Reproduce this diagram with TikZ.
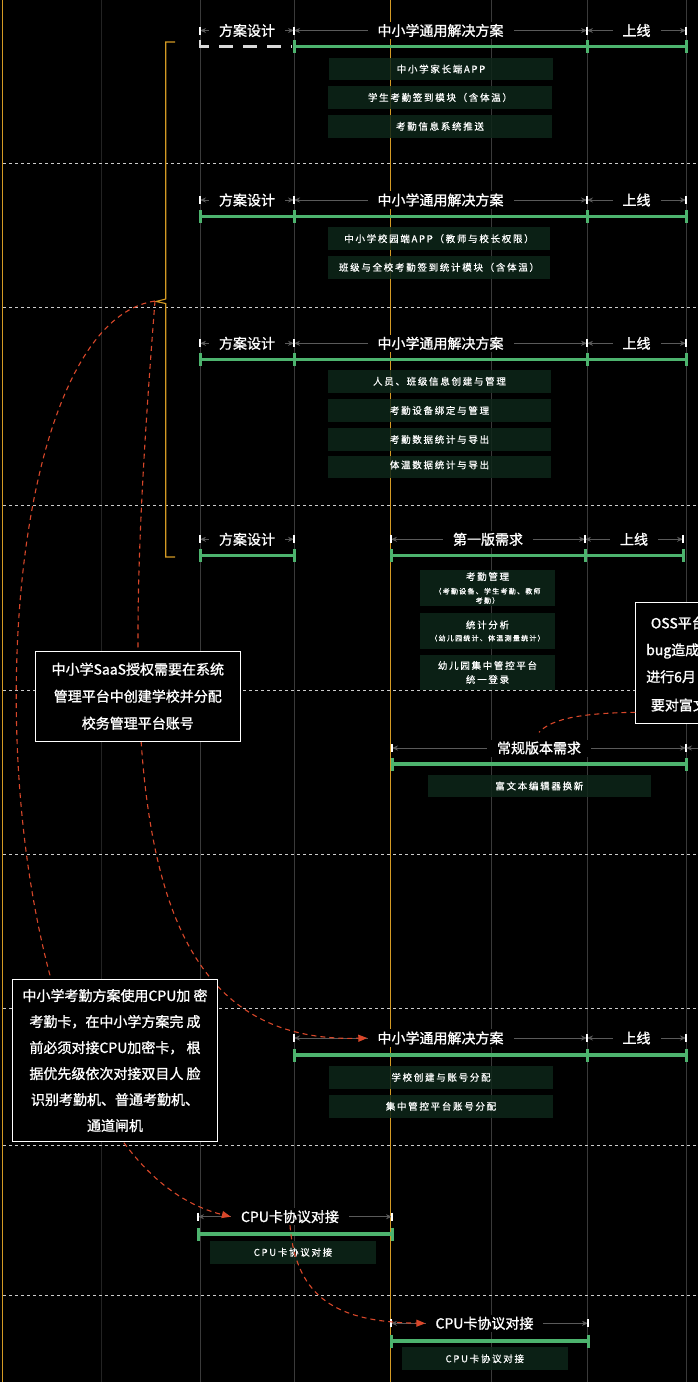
\documentclass[tikz,border=0pt]{standalone}
\usepackage{fontspec}
\setmainfont{Noto Sans CJK SC}
\newfontfamily\labelfont{Noto Sans CJK SC}[FakeBold=1.2]
\newfontfamily\taskfont{Noto Sans CJK SC}[LetterSpace=18, FakeBold=0.6]
\usetikzlibrary{arrows.meta}

\definecolor{gold}{HTML}{D49A24}
\definecolor{barGreen}{HTML}{4DB36E}
\definecolor{boxGreen}{HTML}{0E2619}
\definecolor{gridGray}{HTML}{3A3A3A}
\definecolor{dimGray}{HTML}{5A5A5A}
\definecolor{noteRed}{HTML}{D8472A}

\tikzset{
  gridline/.style={gridGray, line width=1pt},
  goldline/.style={gold, line width=1.3pt},
  sepline/.style={white!80!black, line width=0.7pt, dash pattern=on 3pt off 3pt},
  dimline/.style={dimGray, line width=0.8pt, {Stealth[length=6pt,width=5pt]}-{Stealth[length=6pt,width=5pt]}},
  endtick/.style={white, line width=1.2pt},
  phaselabel/.style={fill=black, text=white, font=\labelfont\fontsize{14}{16}\selectfont, inner xsep=10pt, inner ysep=2pt},
  greenbar/.style={barGreen, line width=3.5pt},
  greentick/.style={barGreen, line width=3pt},
  draftbar/.style={white!85!black, line width=3.5pt},
  taskbox/.style={fill=boxGreen, fill opacity=0.85, text opacity=1, text=white, inner sep=0pt, align=center,
    font=\taskfont\fontsize{9.5}{13}\selectfont, minimum width=223pt, minimum height=22.5pt},
  notebox/.style={draw=white, line width=1pt, fill=black, text=white, align=center, inner sep=0pt,
    font=\labelfont\fontsize{14}{27}\selectfont},
  notetext/.style={text=white, font=\labelfont\fontsize{14}{16}\selectfont, inner sep=0pt},
  notelink/.style={noteRed, line width=1.1pt, dash pattern=on 5pt off 4pt},
  linktip/.style={-{Triangle[length=9pt,width=7pt]}},
}

\newcommand{\phasespan}[6][]{%
  \draw[dimline] (#3,#5) -- (#4,#5);
  \draw[endtick] (#3,#5-4) -- (#3,#5+4) (#4,#5-4) -- (#4,#5+4);
  \node[phaselabel,#1] (#2) at ({(#3+#4)/2},#5) {#6};
}
\newcommand{\phasebar}[4]{%
  \draw[greenbar] (#2,#1) -- (#3,#1);
  \foreach \x in {#4} \draw[greentick] (\x,#1-6.5) -- (\x,#1+6.5);
}
\newcommand{\smalltask}{\taskfont\fontsize{7}{9}\selectfont}

\begin{document}
\begin{tikzpicture}[x=1pt, y=-1pt]
    \useasboundingbox (0,0) rectangle (698,1382);
    \clip (0,0) rectangle (698,1382);
    \fill[black] (0,0) rectangle (698,1382);

    % grid
    \foreach \x in {200,294,491,587,686}
        \draw[gridline] (\x,0) -- (\x,1382);
    \draw[gridline, gridGray!60!black] (101.5,0) -- (101.5,1382);
    \draw[goldline] (2.7,0) -- (2.7,1382);
    \draw[goldline] (390.5,0) -- (390.5,1382);
    \foreach \y in {163,307.5,505,690,854,1008,1145,1295.5}
        \draw[sepline] (3,\y) -- (698,\y);

    % tasks
    \node[taskbox, minimum width=224pt] (s1a) at (441,69) {中小学家长端APP};
    \node[taskbox, minimum width=224pt] (s1b) at (440,97.5) {学生考勤签到模块（含体温）};
    \node[taskbox, minimum width=224pt] (s1c) at (440,126.3) {考勤信息系统推送};
    \node[taskbox, minimum width=222pt] (s2a) at (439,238.7) {中小学校园端APP（教师与校长权限）};
    \node[taskbox, minimum width=222pt] (s2b) at (439,267.3) {班级与全校考勤签到统计模块（含体温）};
    \node[taskbox] (s3a) at (439.5,381.3) {人员、班级信息创建与管理};
    \node[taskbox] (s3b) at (439.5,410.5) {考勤设备绑定与管理};
    \node[taskbox] (s3c) at (439.5,439.5) {考勤数据统计与导出};
    \node[taskbox] (s3d) at (439.5,467) {\raisebox{5pt}{体温数据统计与导出}};
    \node[taskbox, minimum width=135pt, minimum height=36pt] (s4a) at (487.5,588)
        {考勤管理\\[0.7pt]{\smalltask （考勤设备、学生考勤、教师}\\[-3.7pt]{\smalltask 考勤）}};
    \node[taskbox, minimum width=135pt, minimum height=35.4pt] (s4b) at (487.5,631)
        {统计分析\\[-0.7pt]{\smalltask （幼儿园统计、体温测量统计）}};
    \node[taskbox, minimum width=135pt, minimum height=35pt] (s4c) at (487.5,672.5)
        {幼儿园集中管控平台\\[1pt]统一登录};
    \node[taskbox, minimum width=222.7pt, minimum height=22pt] (s5a) at (539.3,786) {富文本编辑器换新};
    \node[taskbox, minimum width=223.7pt] (s7a) at (441,1077.3) {学校创建与账号分配};
    \node[taskbox, minimum width=223.7pt] (s7b) at (441,1106.3) {集中管控平台账号分配};
    \node[taskbox, minimum width=166pt] (s8a) at (293,1252.3) {CPU卡协议对接};
    \node[taskbox, minimum width=166.3pt] (s9a) at (484.8,1358.7) {CPU卡协议对接};

    % school brace
    \draw[goldline, line width=1.1pt] (175,42) -- (165.7,42) -- (165.7,299) -- (156,301.5)
        -- (165.7,303.5) -- (165.7,557) -- (175,557);
    \coordinate (bracetip) at (155,301);

    % phases
    \phasespan{s1design}{200}{294}{30.5}{方案设计}
    \phasespan{s1school}{294}{587}{30.5}{中小学通用解决方案}
    \phasespan{s1launch}{587}{686}{30.5}{上线}
    \draw[draftbar, line width=2pt] (200,40) -- (200,46.7);
    \draw[draftbar, dash pattern=on 14pt off 10pt, dash phase=4pt] (199,46.7) -- (292,46.7);
    \phasebar{46.7}{294}{686}{294,587,686}

    \phasespan{s2design}{200}{294}{200}{方案设计}
    \phasespan{s2school}{294}{587}{200}{中小学通用解决方案}
    \phasespan{s2launch}{587}{686}{200}{上线}
    \phasebar{216.7}{200}{686}{200,294,587,686}

    \phasespan{s3design}{200}{294}{343.3}{方案设计}
    \phasespan{s3school}{294}{587}{343.3}{中小学通用解决方案}
    \phasespan{s3launch}{587}{686}{343.3}{上线}
    \phasebar{359.3}{200}{686}{200,294,587,686}

    \phasespan{s4design}{200}{294}{539.3}{方案设计}
    \phasespan{s4first}{391}{585}{539.3}{第一版需求}
    \phasespan{s4launch}{585}{683}{539.3}{上线}
    \phasebar{555.7}{200}{294}{200,294}
    \phasebar{555.7}{391}{683}{391,585,683}

    \phasespan{s5regular}{392}{686}{748}{常规版本需求}
    \draw[dimline] (686,748) -- (790,748);
    \phasebar{764}{392}{686}{392,686}

    \phasespan{s7school}{294}{587}{1038}{中小学通用解决方案}
    \phasespan{s7launch}{587}{686}{1038}{上线}
    \phasebar{1055}{294}{686}{294,587,686}

    \phasespan[xshift=-5pt]{s8cpu}{198}{392}{1216.7}{CPU卡协议对接}
    \phasebar{1234}{198}{392}{198,392}

    \phasespan[xshift=-5pt]{s9cpu}{391}{588}{1323.3}{CPU卡协议对接}
    \phasebar{1341}{391}{588}{391,588}

    % OSS note
    \node[notebox, anchor=north west, minimum width=100pt, minimum height=121pt] (ossnote) at (635.3,602.3) {};
    \node[notetext, anchor=west] (oss1) at (650.7,623) {OSS平台};
    \node[notetext, anchor=west] (oss2) at (646,651) {bug造成};
    \node[notetext, anchor=west] (oss3) at (646,676.7) {进行6月};
    \node[notetext, anchor=west] (oss4) at (650.7,705) {要对富文};

    % links
    \draw[notelink, linktip] (bracetip) .. controls (-40,330) and (-40,1150) .. (s8cpu.west);
    \draw[notelink, linktip] (bracetip) .. controls (120,750) and (118,1045) .. (s7school.west);
    \draw[notelink, linktip] (s8cpu.south) .. controls (296,1300) and (340,1322) .. (s9cpu.west);
    \draw[notelink] ([yshift=12pt]ossnote.south west) .. controls (585,713) and (552,718) .. ([yshift=7pt]s5regular.north);

    % notes
    \node[notebox, minimum width=205pt, minimum height=89.7pt] (saasnote) at (137.8,696.2)
        {中小学SaaS授权需要在系统\\管理平台中创建学校并分配\\校务管理平台账号};
    \node[notebox, minimum width=205.4pt, minimum height=162.4pt, font=\labelfont\fontsize{14}{26}\selectfont] (cpunote) at (115,1060.5)
        {中小学考勤方案使用CPU加 密\\考勤卡，在中小学方案完 成\\前必须对接CPU加密卡， 根\\据优先级依次对接双目人 脸\\识别考勤机、普通考勤机、\\通道闸机};
\end{tikzpicture}
\end{document}
